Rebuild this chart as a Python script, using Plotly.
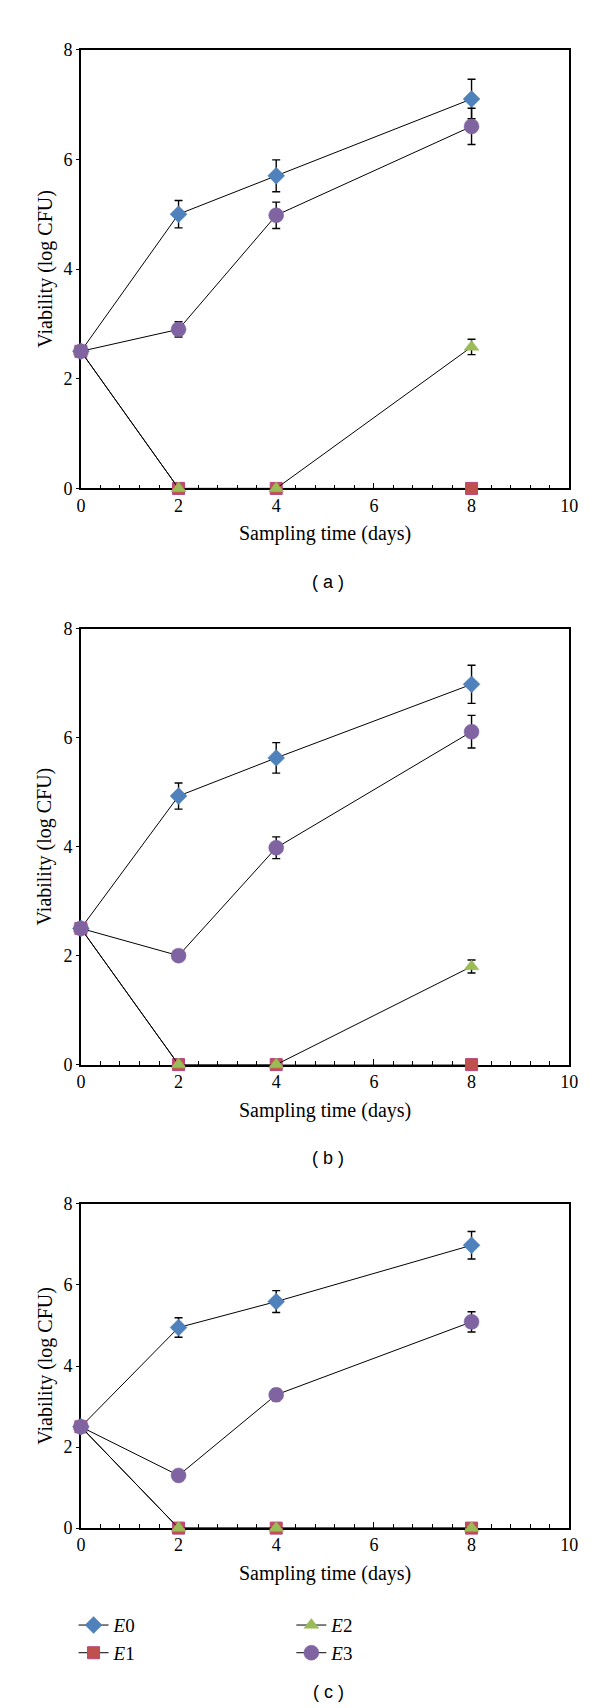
import plotly.graph_objects as go

# ---------------- data ----------------
days = [0, 2, 4, 8]
series_names = ["E0", "E1", "E2", "E3"]

# panel (a)
a_E0 = [2.5, 5.0, 5.7, 7.1]
a_E0_err = [None, 0.25, 0.29, 0.36]
a_E1 = [2.5, 0, 0, 0]
a_E2 = [2.5, 0, 0, 2.58]
a_E2_err = [None, None, None, 0.14]
a_E3 = [2.5, 2.9, 4.98, 6.6]
a_E3_err = [None, 0.14, 0.24, 0.33]

# panel (b)
b_E0 = [2.5, 4.93, 5.63, 6.98]
b_E0_err = [None, 0.24, 0.28, 0.35]
b_E1 = [2.5, 0, 0, 0]
b_E2 = [2.5, 0, 0, 1.8]
b_E2_err = [None, None, None, 0.12]
b_E3 = [2.5, 2.0, 3.98, 6.11]
b_E3_err = [None, None, 0.2, 0.3]

# panel (c)
c_E0 = [2.5, 4.95, 5.59, 6.98]
c_E0_err = [None, 0.24, 0.27, 0.34]
c_E1 = [2.5, 0, 0, 0]
c_E2 = [2.5, 0, 0, 0]
c_E2_err = [None, None, None, None]
c_E3 = [2.5, 1.3, 3.29, 5.09]
c_E3_err = [None, None, 0.15, 0.25]

captions = ["( a )", "( b )", "( c )"]
x_title = "Sampling time (days)"
y_title = "Viability (log CFU)"
x_ticks = [0, 2, 4, 6, 8, 10]
y_ticks = [0, 2, 4, 6, 8]

# ---------------- styling ----------------
W, H = 600, 1708
SERIF = "Liberation Serif, Times New Roman, serif"
SANS = "Liberation Sans, Arial, sans-serif"

styles = {
    "E0": dict(symbol="diamond", size=13, color="#4F81BD", line=dict(color="#4F81BD", width=0.5)),
    "E1": dict(symbol="square", size=12, color="#C0504D", line=dict(color="#B8467A", width=1)),
    "E2": dict(symbol="triangle-up", size=13, color="#9BBB59", line=dict(color="#9BBB59", width=0.5)),
    "E3": dict(symbol="circle", size=15, color="#8064A2", line=dict(color="#8064A2", width=0.5)),
}

# plot area pixel bounds (left, right, top, bottom)
px_left, px_right = 69.5, 569.5
panels_px = [(32, 476), (618, 1059), (1200, 1528)]

def py(v):
    return 1 - v / H

panels = [
    (a_E0, a_E0_err, a_E1, a_E2, a_E2_err, a_E3, a_E3_err),
    (b_E0, b_E0_err, b_E1, b_E2, b_E2_err, b_E3, b_E3_err),
    (c_E0, c_E0_err, c_E1, c_E2, c_E2_err, c_E3, c_E3_err),
]

fig = go.Figure()
layout = {}
annotations = []

for i, (p, (top, bot)) in enumerate(zip(panels, panels_px)):
    E0, E0e, E1, E2, E2e, E3, E3e = p
    sfx = "" if i == 0 else str(i + 1)
    xa, ya = "x" + sfx, "y" + sfx
    data = [("E0", E0, E0e), ("E1", E1, None), ("E2", E2, E2e), ("E3", E3, E3e)]
    for name, ys, err in data:
        st = styles[name]
        tr = dict(
            x=days, y=ys, mode="lines+markers",
            name="<i>E</i>" + name[1:],
            line=dict(color="black", width=1),
            marker=dict(symbol=st["symbol"], size=st["size"], color=st["color"], line=st["line"]),
            xaxis=xa, yaxis=ya, cliponaxis=False,
            showlegend=(i == 2),
            legend="legend" if name in ("E0", "E1") else "legend2",
        )
        if err is not None:
            tr["error_y"] = dict(type="data", array=err, color="black", thickness=1.4, width=4)
        fig.add_trace(go.Scatter(**tr))

    layout["xaxis" + sfx] = dict(
        domain=[px_left / W, px_right / W], anchor=ya, range=[0, 10],
        tickvals=x_ticks, ticks="inside", ticklen=6, tickwidth=1, tickcolor="black",
        minor=dict(dtick=0.4, tick0=0, ticks="inside", ticklen=4, tickwidth=1, tickcolor="black"),
        showline=True, linecolor="black", linewidth=1.5, mirror=True,
        showgrid=False, zeroline=False, layer="below traces",
        tickfont=dict(family=SERIF, size=18, color="black"),
    )
    layout["yaxis" + sfx] = dict(
        domain=[py(bot), py(top)], anchor=xa, range=[0, 8],
        tickvals=y_ticks, ticks="outside", ticklen=3, tickwidth=1, tickcolor="black",
        showline=True, linecolor="black", linewidth=1.5, mirror=True,
        showgrid=False, zeroline=False, layer="below traces",
        tickfont=dict(family=SERIF, size=18, color="black"),
    )
    # axis titles
    annotations.append(dict(
        text=x_title, x=(px_left + px_right) / 2 / W, y=py(bot + 46), xref="paper", yref="paper",
        showarrow=False, xanchor="center", yanchor="middle",
        font=dict(family=SERIF, size=20, color="black")))
    annotations.append(dict(
        text=y_title, x=32.5 / W, y=py((top + bot) / 2), xref="paper", yref="paper",
        showarrow=False, xanchor="center", yanchor="middle", textangle=-90,
        font=dict(family=SERIF, size=20, color="black")))

# captions
for cap, yc in zip(captions, [571, 1154, 1694]):
    annotations.append(dict(
        text=cap, x=323 / W, y=py(yc), xref="paper", yref="paper",
        showarrow=False, xanchor="center", yanchor="middle",
        font=dict(family=SANS, size=18, color="black")))

leg_common = dict(
    orientation="v", xanchor="left", yanchor="top",
    font=dict(family=SERIF, size=19, color="black"),
    bgcolor="rgba(0,0,0,0)", itemwidth=30, tracegroupgap=0,
)
layout["legend"] = dict(x=62 / W, y=py(1607), **leg_common)
layout["legend2"] = dict(x=285 / W, y=py(1607), **leg_common)

fig.update_layout(
    width=W, height=H, margin=dict(l=0, r=0, t=0, b=0),
    paper_bgcolor="white", plot_bgcolor="white",
    annotations=annotations,
    **layout,
)

fig.write_html("out.html")
